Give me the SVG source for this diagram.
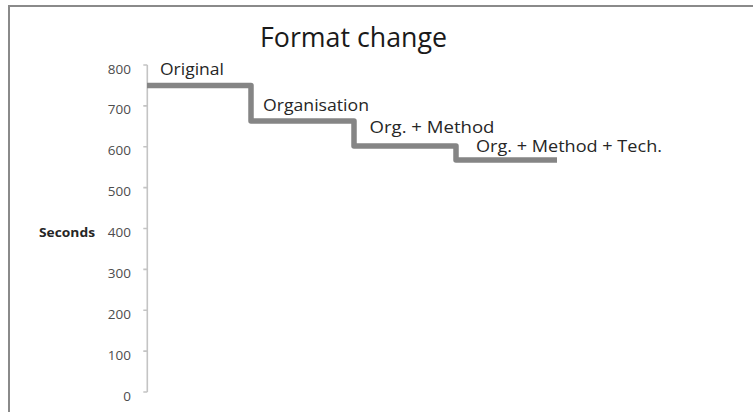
<svg xmlns="http://www.w3.org/2000/svg" width="753" height="412" viewBox="0 0 753 412">
  <style>
    .frame { fill: #ffffff; stroke: #8a8a8a; stroke-width: 2; }
    .title { font-family: "Open Sans", "Noto Sans", sans-serif; font-size: 28px; fill: #1a1a1a; }
    .tick-label { font-family: "Open Sans", "Noto Sans", sans-serif; font-size: 13.5px; fill: #4d4d4d; text-anchor: end; }
    .axis-title { font-family: "Open Sans", "Noto Sans", sans-serif; font-size: 12.5px; font-weight: bold; fill: #262626; }
    .axis { stroke: #c4c4c4; stroke-width: 1.6; fill: none; }
    .step { stroke: #858585; stroke-width: 5.5; fill: none; stroke-linejoin: round; }
    .label { font-family: "Open Sans", "Noto Sans", sans-serif; font-size: 16.5px; fill: #262626; }
  </style>

  <rect x="0" y="0" width="753" height="412" fill="#ffffff"/>
  <!-- chart area border (runs off the right and bottom edges) -->
  <rect class="frame" x="9" y="6" width="800" height="500"/>

  <text class="title" x="260" y="47" textLength="187" lengthAdjust="spacingAndGlyphs">Format change</text>

  <!-- vertical axis with ticks -->
  <g id="y-axis">
    <path class="axis" d="M147.3,65 V392 M143.3,65 H147.3 M143.3,105.9 H147.3 M143.3,146.8 H147.3 M143.3,187.6 H147.3 M143.3,228.5 H147.3 M143.3,269.4 H147.3 M143.3,310.3 H147.3 M143.3,351.1 H147.3 M143.3,392 H147.3"/>
    <text class="tick-label" x="131" y="73.5">800</text>
    <text class="tick-label" x="131" y="114.4">700</text>
    <text class="tick-label" x="131" y="155.3">600</text>
    <text class="tick-label" x="131" y="196.1">500</text>
    <text class="tick-label" x="131" y="237">400</text>
    <text class="tick-label" x="131" y="277.9">300</text>
    <text class="tick-label" x="131" y="318.8">200</text>
    <text class="tick-label" x="131" y="359.6">100</text>
    <text class="tick-label" x="131" y="400.5">0</text>
    <text class="axis-title" x="39" y="237" textLength="56" lengthAdjust="spacingAndGlyphs">Seconds</text>
  </g>

  <!-- step series -->
  <g id="connectors">
    <path class="step" d="M147,85.5 H251 V121 H354 V146 H456 V160 H557"/>
  </g>

  <g id="label-original">
    <text class="label" x="160" y="75" textLength="64" lengthAdjust="spacingAndGlyphs">Original</text>
  </g>
  <g id="label-organisation">
    <text class="label" x="263" y="111" textLength="106" lengthAdjust="spacingAndGlyphs">Organisation</text>
  </g>
  <g id="label-org-method">
    <text class="label" x="369.5" y="133" textLength="125" lengthAdjust="spacingAndGlyphs">Org. + Method</text>
  </g>
  <g id="label-org-method-tech">
    <text class="label" x="476" y="151.5" textLength="186" lengthAdjust="spacingAndGlyphs">Org. + Method + Tech.</text>
  </g>
</svg>
